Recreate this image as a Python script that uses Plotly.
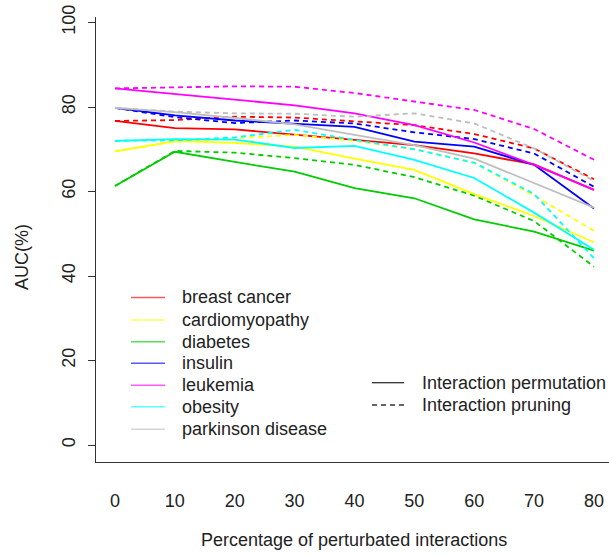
import plotly.graph_objects as go

W, H = 609, 556
ML, MR, MT, MB = 96, 0, 17, 94

x_pct = [0, 10, 20, 30, 40, 50, 60, 70, 80]

diseases = ["breast cancer", "cardiomyopathy", "diabetes", "insulin",
            "leukemia", "obesity", "parkinson disease"]
colors = ["#FF0000", "#FFFF00", "#00CD00", "#0000FF",
          "#FF00FF", "#00FFFF", "#BEBEBE"]

breast_perm = [76.7, 75.0, 74.7, 73.4, 72.2, 71.0, 69.0, 66.4, 60.4]
breast_prune = [76.7, 76.9, 77.7, 77.5, 76.6, 75.7, 73.6, 70.2, 62.9]
cardio_perm = [69.5, 71.9, 71.5, 70.6, 67.8, 65.1, 59.4, 54.2, 48.0]
cardio_prune = [69.5, 71.8, 72.6, 73.4, 72.0, 70.0, 66.8, 59.0, 50.7]
diabetes_perm = [61.3, 69.4, 67.0, 64.7, 60.8, 58.4, 53.4, 50.5, 46.0]
diabetes_prune = [61.3, 69.6, 69.2, 67.9, 66.3, 63.4, 59.0, 53.0, 42.2]
insulin_perm = [79.8, 78.0, 76.8, 76.1, 75.3, 71.8, 70.6, 66.3, 56.0]
insulin_prune = [79.8, 77.6, 76.2, 76.8, 76.1, 74.0, 72.4, 69.0, 61.1]
leukemia_perm = [84.4, 83.1, 81.8, 80.4, 78.5, 75.7, 71.6, 66.3, 60.4]
leukemia_prune = [84.4, 84.7, 84.9, 84.8, 83.3, 81.3, 79.3, 74.8, 67.5]
obesity_perm = [72.0, 72.4, 72.3, 70.3, 70.8, 67.5, 63.2, 55.0, 46.2]
obesity_prune = [72.0, 72.1, 72.8, 74.6, 72.2, 70.0, 66.8, 59.4, 44.2]
parkinson_perm = [79.8, 78.8, 77.4, 75.9, 73.4, 71.0, 67.8, 62.0, 56.2]
parkinson_prune = [79.8, 78.9, 78.5, 78.4, 77.7, 78.5, 76.1, 70.2, 62.5]

perm_series = [breast_perm, cardio_perm, diabetes_perm, insulin_perm,
               leukemia_perm, obesity_perm, parkinson_perm]
prune_series = [breast_prune, cardio_prune, diabetes_prune, insulin_prune,
                leukemia_prune, obesity_prune, parkinson_prune]

method_labels = ["Interaction permutation", "Interaction pruning"]
y_ticks = [0, 20, 40, 60, 80, 100]

FONT = "Liberation Sans, Arial, sans-serif"
FS = 18
DASH = "5px,4px"

fig = go.Figure()
for name, col, perm, prune in zip(diseases, colors, perm_series, prune_series):
    fig.add_trace(go.Scatter(x=x_pct, y=perm, mode="lines", name=name,
                             line=dict(color=col, width=1.8), showlegend=False))
    fig.add_trace(go.Scatter(x=x_pct, y=prune, mode="lines", name=name + " (pruning)",
                             line=dict(color=col, width=1.8, dash=DASH), showlegend=False))

pw, ph = W - ML - MR, H - MT - MB


def px(xp):
    return (xp - ML) / pw


def py(yp):
    return (H - MB - yp) / ph


shapes = []
annotations = []
leg1_rows = [297.5, 320, 341.7, 363.3, 385.3, 406.7, 429.3]
for name, col, yr in zip(diseases, colors, leg1_rows):
    shapes.append(dict(type="line", xref="paper", yref="paper",
                       x0=px(131), x1=px(165), y0=py(yr), y1=py(yr), opacity=0.65,
                       line=dict(color=col, width=1.6)))
    annotations.append(dict(text=name, xref="paper", yref="paper",
                            x=px(180), y=py(yr), xanchor="left", yanchor="middle",
                            showarrow=False, font=dict(family=FONT, size=FS, color="#222")))
leg2_rows = [382.7, 405]
for lab, yr, dash in zip(method_labels, leg2_rows, ["solid", DASH]):
    shapes.append(dict(type="line", xref="paper", yref="paper",
                       x0=px(372), x1=px(404), y0=py(yr), y1=py(yr),
                       line=dict(color="#333", width=1.3, dash=dash)))
    annotations.append(dict(text=lab, xref="paper", yref="paper",
                            x=px(420), y=py(yr), xanchor="left", yanchor="middle",
                            showarrow=False, font=dict(family=FONT, size=FS, color="#222")))

annotations.append(dict(text="Percentage of perturbated interactions", xref="paper", yref="paper",
                        x=px(354), y=py(540), xanchor="center", yanchor="middle",
                        showarrow=False, font=dict(family=FONT, size=FS, color="#222")))
annotations.append(dict(text="AUC(%)", xref="paper", yref="paper",
                        x=px(22), y=py(257), xanchor="center", yanchor="middle", textangle=-90,
                        showarrow=False, font=dict(family=FONT, size=FS, color="#222")))

x0 = 0 + (ML - 115) / 5.9875
x1 = (W - MR - 115) / 5.9875
y0 = -(H - MB - 445) / 4.225
y1 = (445 - MT) / 4.225

fig.update_layout(
    width=W, height=H,
    margin=dict(l=ML, r=MR, t=MT, b=MB),
    paper_bgcolor="white", plot_bgcolor="white",
    font=dict(family=FONT, size=FS, color="#222"),
    shapes=shapes, annotations=annotations,
    xaxis=dict(range=[x0, x1], tickmode="array", tickvals=x_pct,
               ticktext=[str(v) for v in x_pct], showgrid=False, zeroline=False,
               showline=True, linecolor="#333", linewidth=1, ticks="",
               ticklabelstandoff=22),
    yaxis=dict(range=[y0, y1], tickmode="array", tickvals=y_ticks,
               ticktext=[str(v) for v in y_ticks], showgrid=False, zeroline=False,
               showline=True, linecolor="#333", linewidth=1, ticks="outside",
               ticklen=7, tickcolor="#333", tickangle=-90, ticklabelstandoff=6),
)

fig.write_html("out.html", config={"displayModeBar": False},
               post_script="document.body.style.margin='0';document.body.style.overflow='hidden';")
